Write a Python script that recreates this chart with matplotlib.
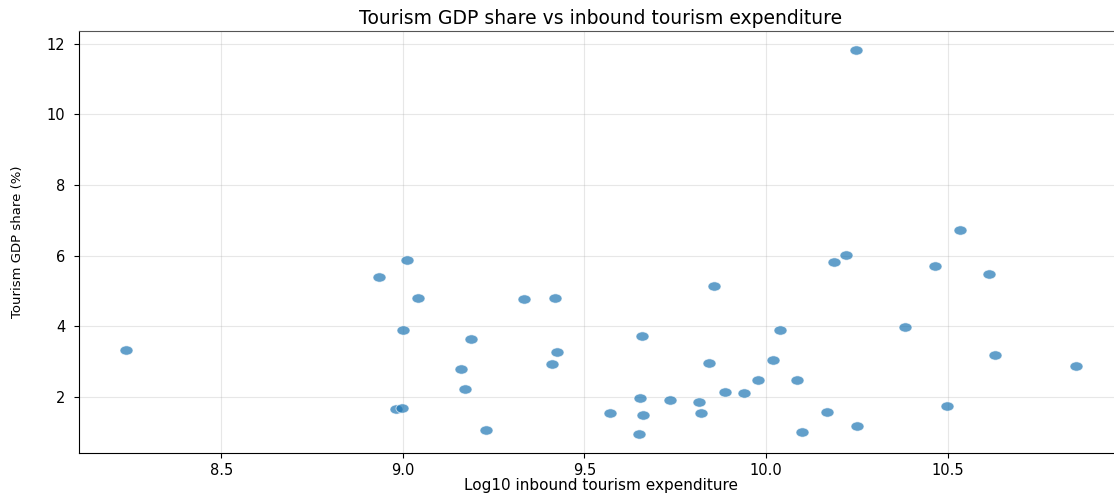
import matplotlib
matplotlib.use("Agg")
import matplotlib.pyplot as plt
from matplotlib.path import Path
from matplotlib.transforms import Affine2D

# Log10 of inbound tourism expenditure per country
log_expenditure = [
    8.238, 8.934, 9.011, 9.041, 9.000, 9.188, 9.160, 9.171, 8.981, 8.997,
    9.229, 9.334, 9.420, 9.423, 9.410, 9.659, 9.856, 9.654, 9.736, 9.814,
    9.569, 9.661, 9.822, 9.651, 9.843, 9.888, 9.940, 9.977, 10.018, 10.037,
    10.085, 10.099, 10.169, 10.249, 10.188, 10.219, 10.381, 10.464, 10.499, 10.613,
    10.629, 10.853, 10.247, 10.534,
]

# Tourism share of GDP (%)
gdp_share = [
    3.32, 5.41, 5.89, 4.81, 3.91, 3.65, 2.80, 2.23, 1.66, 1.69,
    1.06, 4.76, 4.81, 3.26, 2.92, 3.74, 5.15, 1.98, 1.92, 1.85,
    1.56, 1.48, 1.56, 0.96, 2.97, 2.15, 2.12, 2.49, 3.04, 3.89,
    2.49, 1.00, 1.57, 1.18, 5.81, 6.03, 3.99, 5.71, 1.75, 5.49,
    3.18, 2.89, 11.81, 6.74,
]

# Slightly wide oval marker
oval = Path.unit_circle().transformed(Affine2D().scale(1.4, 1.0))

fig = plt.figure(figsize=(11.14, 4.95), dpi=100)
ax = fig.add_axes([0.0705, 0.085, 0.938, 0.852])

ax.scatter(log_expenditure, gdp_share, s=88, marker=oval,
           color="#1f77b4", alpha=0.7, edgecolors="white", linewidths=0.6)

ax.set_title("Tourism GDP share vs inbound tourism expenditure", fontsize=13.5, pad=5)
ax.set_xlabel("Log10 inbound tourism expenditure", fontsize=11, labelpad=0)
ax.set_ylabel("Tourism GDP share (%)", fontsize=9.5, labelpad=16)
ax.tick_params(labelsize=10.5)
ax.tick_params(axis="y", pad=6)
ax.set_xticks([8.5, 9.0, 9.5, 10.0, 10.5])
ax.set_yticks([2, 4, 6, 8, 10, 12])

ax.grid(True, alpha=0.3)
ax.set_axisbelow(True)
ax.spines["top"].set_color("#555555")

fig.savefig("out.png", dpi=100)
plt.close(fig)
